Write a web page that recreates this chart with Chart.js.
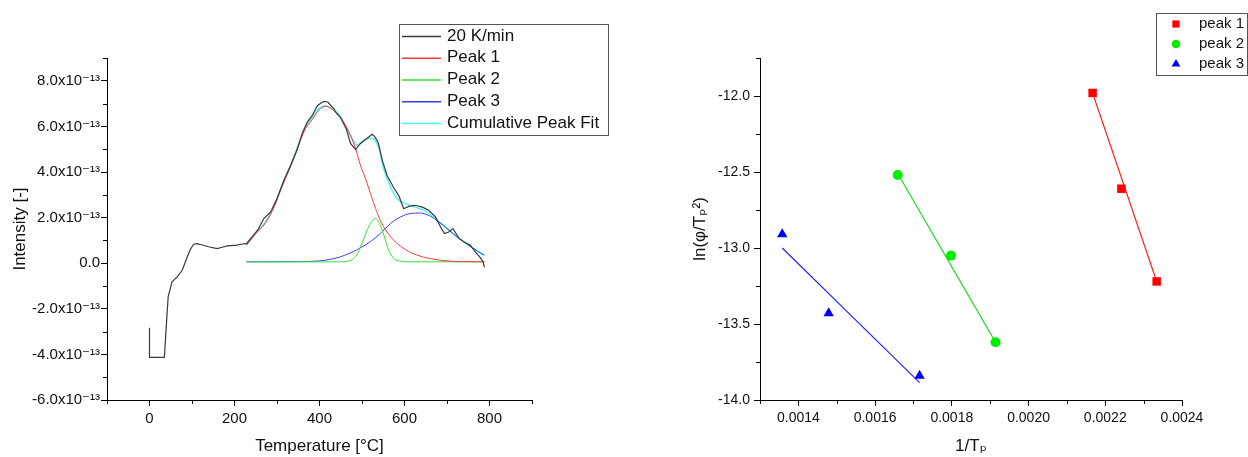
<!DOCTYPE html>
<html>
<head>
<meta charset="utf-8">
<script src="https://cdn.jsdelivr.net/npm/chart.js@4.4.1/dist/chart.umd.min.js"></script>
<style>
body { margin: 0; background: #fff; width: 1248px; height: 457px; overflow: hidden; position: relative; }
canvas { position: absolute; top: 0; }
#leftChart { left: 0; }
#rightChart { left: 628px; }
</style>
</head>
<body>
<canvas id="leftChart" width="620" height="457"></canvas>
<canvas id="rightChart" width="620" height="457"></canvas>
<script>
// ---- left panel: measured signal + peak fit (intensity in units of 1e-13) ----
const tempMeasured = [0, 0, 35, 41, 44, 53, 65, 77, 89, 96, 104, 112, 120, 139, 159, 171, 183, 206, 214, 228, 245, 256, 269, 285, 300, 316, 332, 347, 359, 371, 383, 395, 406, 413, 420, 434, 438, 449, 463, 473, 485, 496, 510, 524, 530, 538, 548, 559, 575, 587, 598, 610, 624, 642, 657, 673, 685, 694, 704, 714, 728, 740, 755, 767, 777, 785, 788];
const intMeasured = [-2.83, -4.13, -4.13, -2.3, -1.47, -0.82, -0.6, -0.31, 0.28, 0.6, 0.83, 0.86, 0.82, 0.72, 0.64, 0.7, 0.76, 0.79, 0.83, 0.86, 1.23, 1.5, 1.96, 2.25, 2.83, 3.63, 4.29, 4.95, 5.68, 6.18, 6.48, 6.91, 7.06, 7.1, 7.06, 6.77, 6.62, 6.4, 5.89, 5.25, 4.98, 5.24, 5.45, 5.65, 5.55, 5.3, 4.5, 3.85, 3.3, 2.95, 2.39, 2.49, 2.54, 2.46, 2.32, 2.03, 1.59, 1.3, 1.37, 1.52, 1.1, 0.93, 0.79, 0.49, 0.28, 0.06, -0.18];

const tempPeak1 = [228, 249, 273, 292, 312, 332, 351, 367, 383, 398, 414, 430, 442, 457, 473, 485, 496, 508, 520, 532, 543, 559, 579, 602, 630, 661, 700, 740, 788];
const intPeak1 = [0.79, 1.27, 1.77, 2.42, 3.37, 4.24, 5.18, 5.9, 6.3, 6.7, 6.88, 6.75, 6.55, 6.18, 5.6, 5.02, 4.32, 3.72, 3.05, 2.4, 1.88, 1.37, 0.93, 0.6, 0.35, 0.2, 0.1, 0.07, 0.06];

const tempPeak2 = [228, 440, 469, 480, 489, 497, 505, 512, 520, 532, 540, 548, 556, 563, 575, 590, 610, 788];
const intPeak2 = [0.06, 0.06, 0.1, 0.2, 0.4, 0.75, 1.1, 1.44, 1.75, 1.96, 1.8, 1.44, 0.95, 0.57, 0.2, 0.1, 0.06, 0.06];

const tempPeak3 = [228, 350, 400, 449, 489, 520, 543, 567, 591, 614, 637, 661, 681, 700, 724, 748, 771, 788];
const intPeak3 = [0.06, 0.07, 0.1, 0.28, 0.6, 0.95, 1.3, 1.74, 2.03, 2.18, 2.2, 2.06, 1.81, 1.52, 1.15, 0.83, 0.54, 0.35];

const tempCumulative = [228, 249, 273, 292, 312, 332, 351, 367, 383, 398, 414, 430, 445, 461, 473, 488, 504, 518, 526, 540, 551, 567, 583, 602, 626, 653, 677, 700, 724, 748, 771, 788];
const intCumulative = [0.79, 1.3, 1.81, 2.46, 3.41, 4.29, 5.24, 5.97, 6.38, 6.77, 6.91, 6.77, 6.55, 6.04, 5.6, 5.18, 5.4, 5.48, 5.46, 5.02, 4.14, 3.34, 2.83, 2.61, 2.46, 2.25, 1.88, 1.52, 1.15, 0.83, 0.54, 0.35];

const tempTicks = [0, 200, 400, 600, 800];
const tempMinor = [-100, 100, 300, 500, 700, 900];
const intTicks = [-6, -4, -2, 0, 2, 4, 6, 8];
const intMinor = [-5, -3, -1, 1, 3, 5, 7, 9];

// ---- right panel: ln(phi/Tp^2) vs 1/Tp ----
const invT1 = [0.002167, 0.002242, 0.002334];
const lnY1 = [-11.98, -12.61, -13.22];
const invT2 = [0.001659, 0.001798, 0.001914];
const lnY2 = [-12.52, -13.05, -13.62];
const invT3 = [0.001358, 0.001479, 0.001716];
const lnY3 = [-12.91, -13.43, -13.84];

const fitX1 = [0.002167, 0.002334];
const fitY1 = [-11.98, -13.22];
const fitX2 = [0.001659, 0.001914];
const fitY2 = [-12.51, -13.62];
const fitX3 = [0.001358, 0.001716];
const fitY3 = [-13.0, -13.886];

const invTTicks = [0.0014, 0.0016, 0.0018, 0.0020, 0.0022, 0.0024];
const invTMinor = [0.0013, 0.0015, 0.0017, 0.0019, 0.0021, 0.0023];
const lnTicks = [-14, -13.5, -13, -12.5, -12];
const lnMinor = [-13.75, -13.25, -12.75, -12.25, -11.75];

const FONT = '"Liberation Sans", Arial, "DejaVu Sans", sans-serif';
Chart.defaults.font.family = FONT;
Chart.defaults.color = '#111';

function zip(xs, ys) {
    return xs.map((x, i) => ({x: x, y: ys[i]}));
}

// short minor ticks, Origin style
const minorTicks = {
    id: 'minorTicks',
    afterDraw(chart, args, opts) {
        const ctx = chart.ctx, xs = chart.scales.x, ys = chart.scales.y;
        ctx.save();
        ctx.strokeStyle = '#000';
        ctx.lineWidth = 1;
        ctx.beginPath();
        opts.x.forEach(v => {
            const p = Math.round(xs.getPixelForValue(v)) + 0.5;
            ctx.moveTo(p, xs.top);
            ctx.lineTo(p, xs.top + 4);
        });
        opts.y.forEach(v => {
            const p = Math.round(ys.getPixelForValue(v)) + 0.5;
            ctx.moveTo(ys.right, p);
            ctx.lineTo(ys.right - 4, p);
        });
        ctx.stroke();
        ctx.restore();
    }
};

// framed legend placed where the original has it
const boxLegend = {
    id: 'boxLegend',
    afterDraw(chart, args, o) {
        const ctx = chart.ctx;
        ctx.save();
        ctx.fillStyle = '#fff';
        ctx.fillRect(o.x, o.y, o.w, o.h);
        ctx.strokeStyle = '#555';
        ctx.lineWidth = 1;
        ctx.strokeRect(o.x + 0.5, o.y + 0.5, o.w - 1, o.h - 1);
        ctx.font = o.size + 'px ' + FONT;
        ctx.textBaseline = 'middle';
        const items = chart.data.datasets.filter(d => !d.noLegend);
        items.forEach((d, i) => {
            const cy = o.y + o.first + i * o.step;
            if (o.marker) {
                ctx.fillStyle = d.backgroundColor;
                ctx.strokeStyle = d.backgroundColor;
                Chart.helpers.drawPoint(ctx, {pointStyle: d.pointStyle, radius: d.pointRadius * 0.85, rotation: 0, borderWidth: 0}, o.x + o.markX, cy);
            } else {
                ctx.strokeStyle = d.borderColor;
                ctx.lineWidth = 1.3;
                ctx.beginPath();
                ctx.moveTo(o.x + 3, cy + 0.5);
                ctx.lineTo(o.x + 42, cy + 0.5);
                ctx.stroke();
            }
            ctx.fillStyle = '#111';
            ctx.fillText(d.label, o.x + o.textX, cy);
        });
        ctx.restore();
    }
};

function axisGrid() {
    return {drawOnChartArea: false, drawTicks: true, tickLength: 6, color: '#000', tickColor: '#000', tickWidth: 1};
}

function lineSet(label, xs, ys, color, width) {
    return {
        label: label,
        data: zip(xs, ys),
        showLine: true,
        borderColor: color,
        backgroundColor: color,
        borderWidth: width,
        pointRadius: 0,
        tension: 0,
        cubicInterpolationMode: 'monotone'
    };
}

const measured = lineSet('20 K/min', tempMeasured, intMeasured, '#3a3a3a', 1.2);
measured.cubicInterpolationMode = 'default';
measured.tension = 0;

new Chart(document.getElementById('leftChart').getContext('2d'), {
    type: 'scatter',
    data: {
        datasets: [
            measured,
            lineSet('Peak 1', tempPeak1, intPeak1, '#ff3b3b', 1),
            lineSet('Peak 2', tempPeak2, intPeak2, '#33e033', 1),
            lineSet('Peak 3', tempPeak3, intPeak3, '#3b3bff', 1),
            lineSet('Cumulative Peak Fit', tempCumulative, intCumulative, '#4ff5f5', 1.5)
        ]
    },
    options: {
        responsive: false,
        animation: false,
        layout: {padding: {top: 58, right: 88, bottom: 0, left: 0}},
        scales: {
            x: {
                type: 'linear', min: -100, max: 900,
                afterBuildTicks: s => { s.ticks = tempTicks.map(v => ({value: v})); },
                afterFit: s => { s.height = 57; },
                grid: axisGrid(),
                border: {display: true, color: '#000', width: 1},
                ticks: {font: {size: 15}, padding: 4, color: '#111', maxRotation: 0, autoSkip: false},
                title: {display: true, text: 'Temperature [°C]', font: {size: 17}, color: '#111', padding: {top: 0, bottom: 0}}
            },
            y: {
                type: 'linear', min: -6, max: 9,
                afterBuildTicks: s => { s.ticks = intTicks.map(v => ({value: v})); },
                afterFit: s => { s.width = 107; },
                grid: axisGrid(),
                border: {display: true, color: '#000', width: 1},
                ticks: {
                    font: {size: 15}, padding: 1, color: '#111', autoSkip: false,
                    callback: v => v === 0 ? '0.0' : v.toFixed(1) + 'x10\u207B\u00B9\u00B3'
                },
                title: {display: true, text: 'Intensity [-]', font: {size: 17}, color: '#111', padding: {top: 10, bottom: 0}}
            }
        },
        plugins: {
            legend: {display: false},
            tooltip: {enabled: false},
            minorTicks: {x: tempMinor, y: intMinor},
            boxLegend: {x: 399, y: 24, w: 210, h: 112, first: 12, step: 21.75, size: 17, textX: 48, marker: false}
        }
    },
    plugins: [minorTicks, boxLegend]
});

function pointSet(label, xs, ys, color, style, radius) {
    return {
        label: label,
        data: zip(xs, ys),
        backgroundColor: color,
        borderColor: color,
        borderWidth: 0,
        pointStyle: style,
        pointRadius: radius
    };
}

function fitSet(xs, ys, color) {
    const d = lineSet('', xs, ys, color, 1.2);
    d.noLegend = true;
    return d;
}

new Chart(document.getElementById('rightChart').getContext('2d'), {
    type: 'scatter',
    data: {
        datasets: [
            pointSet('peak 1', invT1, lnY1, '#ff0000', 'rect', 6),
            pointSet('peak 2', invT2, lnY2, '#00ee00', 'circle', 5),
            pointSet('peak 3', invT3, lnY3, '#0000ff', 'triangle', 6),
            fitSet(fitX1, fitY1, '#ff2020'),
            fitSet(fitX2, fitY2, '#22dd22'),
            fitSet(fitX3, fitY3, '#2020ff')
        ]
    },
    options: {
        responsive: false,
        animation: false,
        layout: {padding: {top: 58, right: 66, bottom: 0, left: 0}},
        scales: {
            x: {
                type: 'linear', min: 0.0013, max: 0.0024,
                afterBuildTicks: s => { s.ticks = invTTicks.map(v => ({value: v})); },
                afterFit: s => { s.height = 57; },
                grid: axisGrid(),
                border: {display: true, color: '#000', width: 1},
                ticks: {font: {size: 14}, padding: 4, color: '#111', maxRotation: 0, autoSkip: false, callback: v => v.toFixed(4)},
                title: {display: true, text: '1/T\u209A', font: {size: 17}, color: '#111', padding: {top: 0, bottom: 0}}
            },
            y: {
                type: 'linear', min: -14, max: -11.75,
                afterBuildTicks: s => { s.ticks = lnTicks.map(v => ({value: v})); },
                afterFit: s => { s.width = 132; },
                grid: axisGrid(),
                border: {display: true, color: '#000', width: 1},
                ticks: {font: {size: 14}, padding: 4, color: '#111', autoSkip: false, callback: v => v.toFixed(1)},
                title: {display: true, text: 'ln(\u03C6/T\u209A\u00B2)', font: {size: 17}, color: '#111', padding: {top: 62, bottom: 0}}
            }
        },
        plugins: {
            legend: {display: false},
            tooltip: {enabled: false},
            minorTicks: {x: invTMinor, y: lnMinor},
            boxLegend: {x: 528, y: 13, w: 92, h: 63, first: 11, step: 20, size: 15, markX: 20, textX: 43, marker: true}
        }
    },
    plugins: [minorTicks, boxLegend]
});
</script>
</body>
</html>
